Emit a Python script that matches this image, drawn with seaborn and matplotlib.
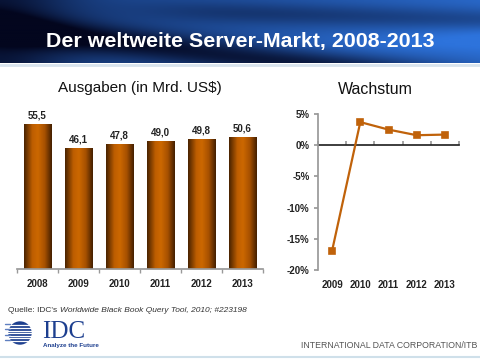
import numpy as np
import pandas as pd
import matplotlib
matplotlib.use("Agg")
import matplotlib.pyplot as plt
import seaborn as sns
from matplotlib.colors import LinearSegmentedColormap
from matplotlib.patches import Circle

# data
years = ["2008", "2009", "2010", "2011", "2012", "2013"]
spend = [55.5, 46.1, 47.8, 49.0, 49.8, 50.6]
growth_years = ["2009", "2010", "2011", "2012", "2013"]
growth = [-16.9, 3.7, 2.5, 1.6, 1.7]
growth_ticks = [5, 0, -5, -10, -15, -20]

sns.set_theme(style="white")
plt.rcParams["font.family"] = ["Liberation Sans", "DejaVu Sans"]

W, H = 480, 359
fig = plt.figure(figsize=(4.8, 3.59), dpi=100)
fig.patch.set_facecolor("white")

# header band (blue with dark diagonal streaks)
hdr = fig.add_axes([0, 1 - 63 / H, 1, 63 / H])
gx, gy = np.meshgrid(np.linspace(0, 1, 240), np.linspace(0, 1, 40))
light = 0.5 + 0.4 * gx
light -= 0.6 * np.exp(-((gy - 0.45 - 0.9 * gx) / 0.25) ** 2)
light -= 0.3 * np.exp(-((gy - 0.1 - 0.2 * gx) / 0.18) ** 2) / (1 + np.exp(-(gx - 0.35) / 0.08))
light -= 0.35 * np.exp(-(gx / 0.15) ** 2)
light += 0.15 * np.exp(-((gy - 0.75 + 0.3 * (gx - 0.6)) / 0.2) ** 2) * gx
light = np.clip(light, 0, 1)
dark = np.array([3, 6, 30]) / 255
blue = np.array([45, 115, 220]) / 255
img = dark + (blue - dark) * light[..., None]
hdr.imshow(img, aspect="auto", extent=[0, 1, 0, 1], interpolation="bilinear")
hdr.set_axis_off()
fig.text(0.5, 1 - 42 / H, "Der weltweite Server-Markt, 2008-2013", ha="center",
         va="center", color="white", fontsize=15.4, fontweight="bold")
fig.add_artist(plt.Line2D([0, 1], [1 - 64.5 / H] * 2, color="#d8e4ee", lw=2))

# bar chart
df = pd.DataFrame({"Jahr": years, "Ausgaben": spend})
ax1 = fig.add_axes([17 / W, 90 / H, 246 / W, 157 / H])
sns.barplot(data=df, x="Jahr", y="Ausgaben", ax=ax1, width=0.68, color="#c86400")
ax1.set_ylim(0, 60)
ax1.set_xlim(-0.5, 5.5)
bar_cmap = LinearSegmentedColormap.from_list(
    "bar", [(0, "#4a2300"), (0.3, "#be5e00"), (0.5, "#cc6800"), (0.75, "#a65000"), (1, "#452000")])
grad = np.linspace(0, 1, 64)[None, :]
for p, v in zip(ax1.patches, spend):
    x0, w = p.get_x(), p.get_width()
    im = ax1.imshow(grad, cmap=bar_cmap, aspect="auto", extent=[x0, x0 + w, 0, v], zorder=2)
    im.set_clip_path(p)
    p.set_facecolor("none")
    p.set_edgecolor("none")
    ax1.text(x0 + w / 2, v + 1.3, f"{v:.1f}".replace(".", ","), ha="center", va="bottom",
             fontsize=7, fontweight="bold", color="#222222")
ax1.set_xlabel("")
ax1.set_ylabel("")
ax1.set_yticks([])
for s in ["left", "top", "right"]:
    ax1.spines[s].set_visible(False)
ax1.spines["bottom"].set_color("#999999")
ax1.set_xticks(range(len(years)))
ax1.set_xticklabels(years, fontsize=7, fontweight="bold", color="#222222")
ax1.set_xticks([i - 0.5 for i in range(len(years) + 1)], minor=True)
ax1.tick_params(axis="x", which="major", length=0, pad=7)
ax1.tick_params(axis="x", which="minor", length=3, color="#999999", bottom=True)
fig.text(140 / W, 1 - 88 / H, "Ausgaben (in Mrd. US\\$)", ha="center", va="center",
         fontsize=11, color="#111111")

# growth line
ax2 = fig.add_axes([318 / W, 89 / H, 141 / W, 156 / H])
sns.pointplot(x=growth_years, y=growth, ax=ax2, color="#c0620a", markers="s",
              markersize=5, linewidth=1.6)
ax2.set_xlim(-0.5, 4.5)
ax2.set_ylim(-20, 5)
ax2.set_yticks(growth_ticks)
ax2.set_yticklabels([f"{t}%" for t in growth_ticks], fontsize=7, fontweight="bold", color="#222222")
ax2.set_xticks(range(len(growth_years)))
ax2.set_xticklabels(growth_years, fontsize=7, fontweight="bold", color="#222222")
ax2.tick_params(axis="x", length=0, pad=7)
ax2.tick_params(axis="y", length=3, color="#999999", left=True, pad=3)
for s in ["top", "right", "bottom"]:
    ax2.spines[s].set_visible(False)
ax2.spines["left"].set_color("#999999")
ax2.set_xlabel("")
ax2.set_ylabel("")
zero = ax2.secondary_xaxis(0.8)
zero.set_xticks([i - 0.5 for i in range(len(growth_years) + 1)])
zero.set_xticklabels([])
zero.tick_params(length=3, color="#999999")
zero.spines["bottom"].set_color("#999999")
fig.text(375 / W, 1 - 90 / H, "Wachstum", ha="center", va="center", fontsize=11.5, color="#111111")

# footer
t1 = fig.text(8 / W, 1 - 311 / H, "Quelle: IDC's ", fontsize=6, color="#333333", va="center")
fig.canvas.draw()
bb = t1.get_window_extent()
fig.text(bb.x1 / W, 1 - 311 / H, "Worldwide Black Book Query Tool, 2010; #223198", fontsize=6,
         style="italic", color="#333333", va="center")

logo = fig.add_axes([4 / W, 1 - 348 / H, 30 / W, 28 / H])
logo.set_xlim(0, 30)
logo.set_ylim(0, 28)
logo.set_axis_off()
logo.add_patch(Circle((16, 15), 11, color="#1d3f8f"))
for yy in np.arange(7, 24, 2.6):
    logo.plot([1, 28], [yy, yy], color="white", lw=0.9)
for yy in np.arange(8.3, 24, 5.2):
    logo.plot([1, 6], [yy, yy], color="#5f7fc0", lw=1.0)
fig.text(42 / W, 1 - 338 / H, "IDC", fontsize=18, color="#1d3f8f", family="Liberation Serif")
fig.text(43 / W, 1 - 346 / H, "Analyze the Future", fontsize=4.5, fontweight="bold",
         color="#1d3f8f", va="center")
fig.text(477 / W, 1 - 346 / H, "INTERNATIONAL DATA CORPORATION/ITB", fontsize=6.3,
         color="#555555", ha="right", va="center")
fig.add_artist(plt.Line2D([0, 1], [1 - 357 / H] * 2, color="#cfe0ea", lw=1.5))

fig.savefig("out.png", dpi=100)
